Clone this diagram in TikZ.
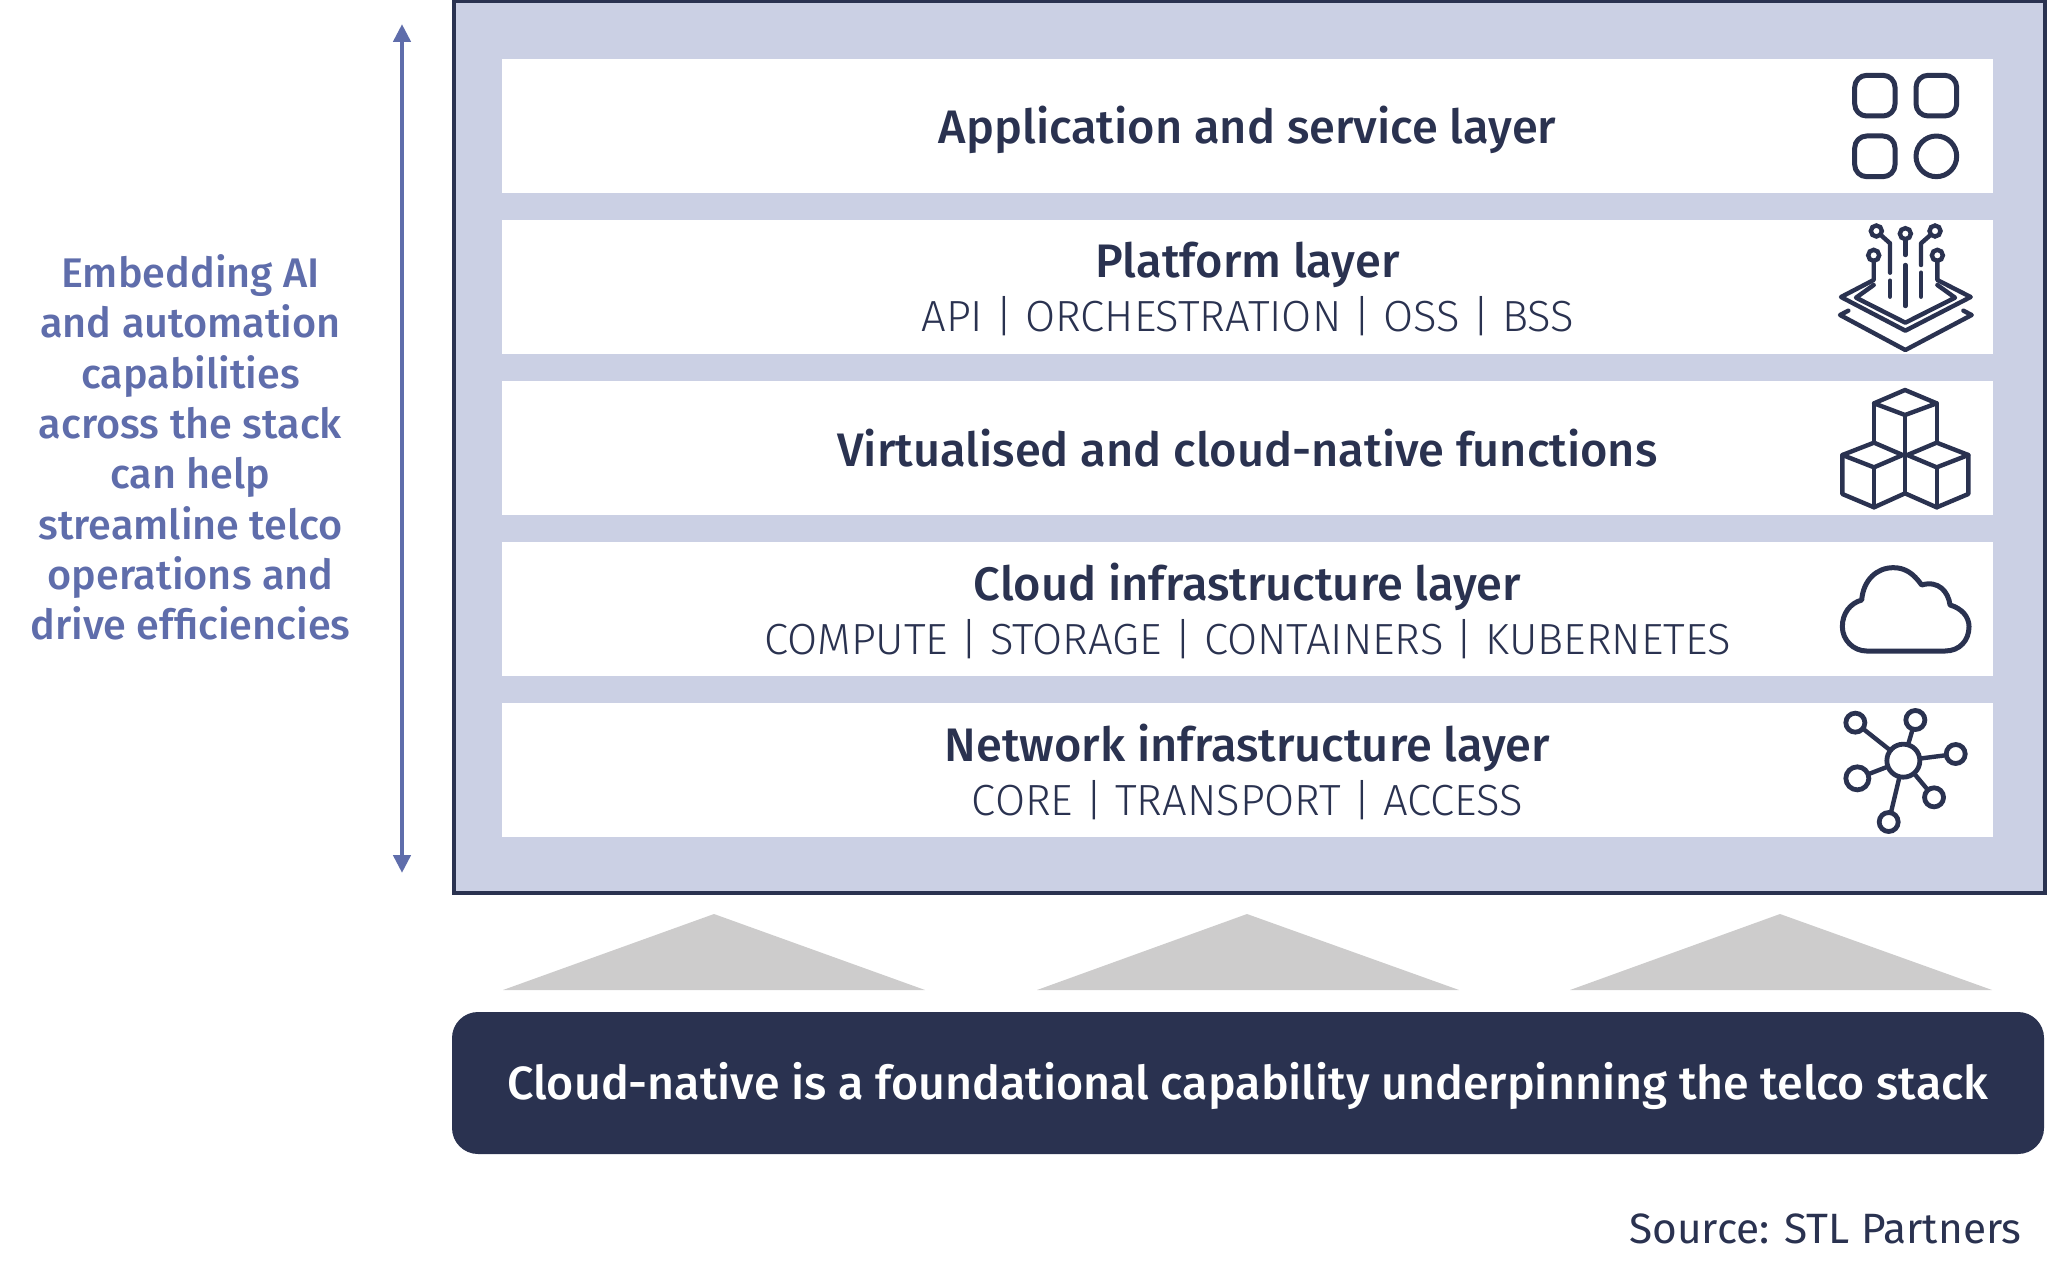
\documentclass[tikz,border=0pt]{standalone}
\usepackage{fontspec}
\usepackage{xcolor}
\usetikzlibrary{positioning,arrows.meta}
\setmainfont{Fira Sans}
\newfontfamily\titlefont{Fira Sans Medium}
\newfontfamily\subfont{Fira Sans Light}
\definecolor{navy}{HTML}{2A3250}
\definecolor{band}{HTML}{CBD0E4}
\definecolor{steel}{HTML}{5F6DAB}
\definecolor{peak}{HTML}{CDCCCC}
\newcommand{\layertitle}{\fontsize{23.5}{26.5}\titlefont}
\newcommand{\layersub}{\fontsize{21.8}{26.5}\subfont}
\tikzset{
	layerbox/.style={fill=white,minimum width=745.5pt,minimum height=66.75pt,align=center,text=navy,inner sep=0pt,outer sep=0pt},
	twoline/.style={layerbox,text depth=-1pt},
	iconline/.style={draw=navy,line width=2.2pt,line join=round,line cap=round},
	zoomgrid/.style={x=0.166667pt,y=-0.166667pt},
	hubdot/.style={circle,draw=navy,line width=2.4pt,inner sep=0pt,outer sep=0pt}
}
\begin{document}
\begin{tikzpicture}[x=0.5pt,y=-0.5pt]
	\useasboundingbox (0,0) rectangle (2048,1278);
	\node(stack) [draw=navy,fill=band,line width=2pt,minimum width=795.5pt,minimum height=446pt,inner sep=0pt] at (1249,447) {};
	\node(app) [layerbox,text depth=1.7pt] at (1247.5,126) {\layertitle Application and service layer};
	\node(platform) [twoline,below=13.75pt of app] {{\layertitle Platform layer}\\[3.4pt]{\layersub API | ORCHESTRATION | OSS | BSS}};
	\node(virtual) [layerbox,below=13.75pt of platform] {\layertitle Virtualised and cloud-native functions};
	\node(cloud) [twoline,below=13.75pt of virtual] {{\layertitle Cloud infrastructure layer}\\[3.4pt]{\layersub COMPUTE | STORAGE | CONTAINERS | KUBERNETES}};
	\node(network) [twoline,below=13.75pt of cloud] {{\layertitle Network infrastructure layer}\\[3.4pt]{\layersub CORE | TRANSPORT | ACCESS}};
	% arrow and text on the left
	\coordinate(top) at (402,24);
	\coordinate(bottom) at (402,873);
	\draw[steel,line width=2.4pt,{Triangle[width=8.5pt,length=9pt]}-{Triangle[width=8.5pt,length=9pt]}] (top) -- (bottom);
	\node(embed) [text=steel,align=center,font=\fontsize{20.7}{25.15}\titlefont] at (190.5,447.5) {Embedding AI\\and automation\\capabilities\\across the stack\\can help\\streamline telco\\operations and\\drive efficiencies};
	% triangles under the stack
	\foreach \i/\a/\b/\c in {one/503/714/925,two/1037/1247/1459,three/1570/1780/1992}{
		\coordinate(\i l) at (\a,990);
		\coordinate(\i t) at (\b,914);
		\coordinate(\i r) at (\c,990);
		\fill[peak] (\i l) -- (\i t) -- (\i r) -- cycle;
	}
	\node(base) [fill=navy,rounded corners=13pt,minimum width=796pt,minimum height=71pt,inner sep=0pt,text depth=1.7pt,text=white,font=\fontsize{23.3}{26}\titlefont] at (1248,1083) {Cloud-native is a foundational capability underpinning the telco stack};
	\node(source) [anchor=east,text=navy,inner sep=0pt,font=\fontsize{21.2}{24}\selectfont] at (2022,1228.5) {Source: STL Partners};
	% icon of the application layer
	\begin{scope}[shift={(1780,50)},zoomgrid]
		\draw[iconline,line width=2.5pt,rounded corners=6pt] (224,76) rectangle (345,198);
		\draw[iconline,line width=2.5pt,rounded corners=6pt] (408,76) rectangle (530,198);
		\draw[iconline,line width=2.5pt,rounded corners=6pt] (224,258) rectangle (345,380);
		\draw[iconline,line width=2.5pt] (469,319) circle (61);
	\end{scope}
	% icon of the platform layer
	\begin{scope}[shift={(1780,50)},zoomgrid]
		\foreach \n/\x/\y in {pa/289/543,pb/376/551,pc/465/543,pd/281/616,pe/472/616}
			\node(\n) [hubdot,line width=2.2pt,minimum size=5.5pt] at (\x,\y) {};
		\draw[iconline] (pa) -- (330,580) -- (330,668);
		\draw[iconline] (330,692) -- (330,740);
		\draw[iconline] (pb) -- (376,615);
		\draw[iconline] (376,645) -- (376,768);
		\draw[iconline] (pc) -- (423,580) -- (423,645);
		\draw[iconline] (423,668) -- (423,740);
		\draw[iconline] (pd) -- (281,690) -- (183,741) -- (376,842) -- (572,741) -- (472,690) -- (pe);
		\draw[iconline] (281,705) -- (228,743) -- (376,818) -- (525,743) -- (472,705);
		\draw[iconline] (205,782) -- (180,795) -- (376,900) -- (575,795) -- (550,782);
	\end{scope}
	% icon of the functions
	\begin{scope}[shift={(1780,370)},zoomgrid]
		\draw[iconline] (375,60) -- (470,100) -- (375,135) -- (282,100) -- cycle;
		\draw[iconline] (282,218) -- (368,255) -- (282,292) -- (187,255) -- cycle;
		\draw[iconline] (470,218) -- (565,255) -- (470,292) -- (382,255) -- cycle;
		\draw[iconline] (282,100) -- (282,218);
		\draw[iconline] (470,100) -- (470,218);
		\draw[iconline] (375,135) -- (375,370);
		\draw[iconline] (187,255) -- (187,372) -- (282,412) -- (375,370) -- (470,412) -- (565,372) -- (565,255);
		\draw[iconline] (282,292) -- (282,412);
		\draw[iconline] (470,292) -- (470,412);
	\end{scope}
	% cloud icon
	\begin{scope}[shift={(1780,370)},zoomgrid]
		\draw[iconline,line width=2.5pt] (260,843) -- (495,843) .. controls (540,843) and (567,810) .. (567,770) .. controls (567,740) and (545,715) .. (510,705) .. controls (505,665) and (475,630) .. (425,645) .. controls (400,610) and (375,593) .. (340,593) .. controls (290,593) and (250,630) .. (245,690) .. controls (210,700) and (187,730) .. (187,770) .. controls (187,810) and (220,843) .. (260,843) -- cycle;
	\end{scope}
	% icon of the network
	\begin{scope}[shift={(1780,680)},zoomgrid]
		\node(hub) [hubdot,minimum size=16.5pt] at (370,242) {};
		\foreach \n/\x/\y/\d in {na/226/128/9.5pt,nb/406/120/9.5pt,nc/527/222/9.5pt,nd/232/295/11.5pt,ne/462/352/9.5pt,nf/326/426/9.5pt}{
			\node(\n) [hubdot,minimum size=\d] at (\x,\y) {};
			\draw[iconline,line cap=butt] (hub) -- (\n);
		}
	\end{scope}
\end{tikzpicture}
\end{document}
